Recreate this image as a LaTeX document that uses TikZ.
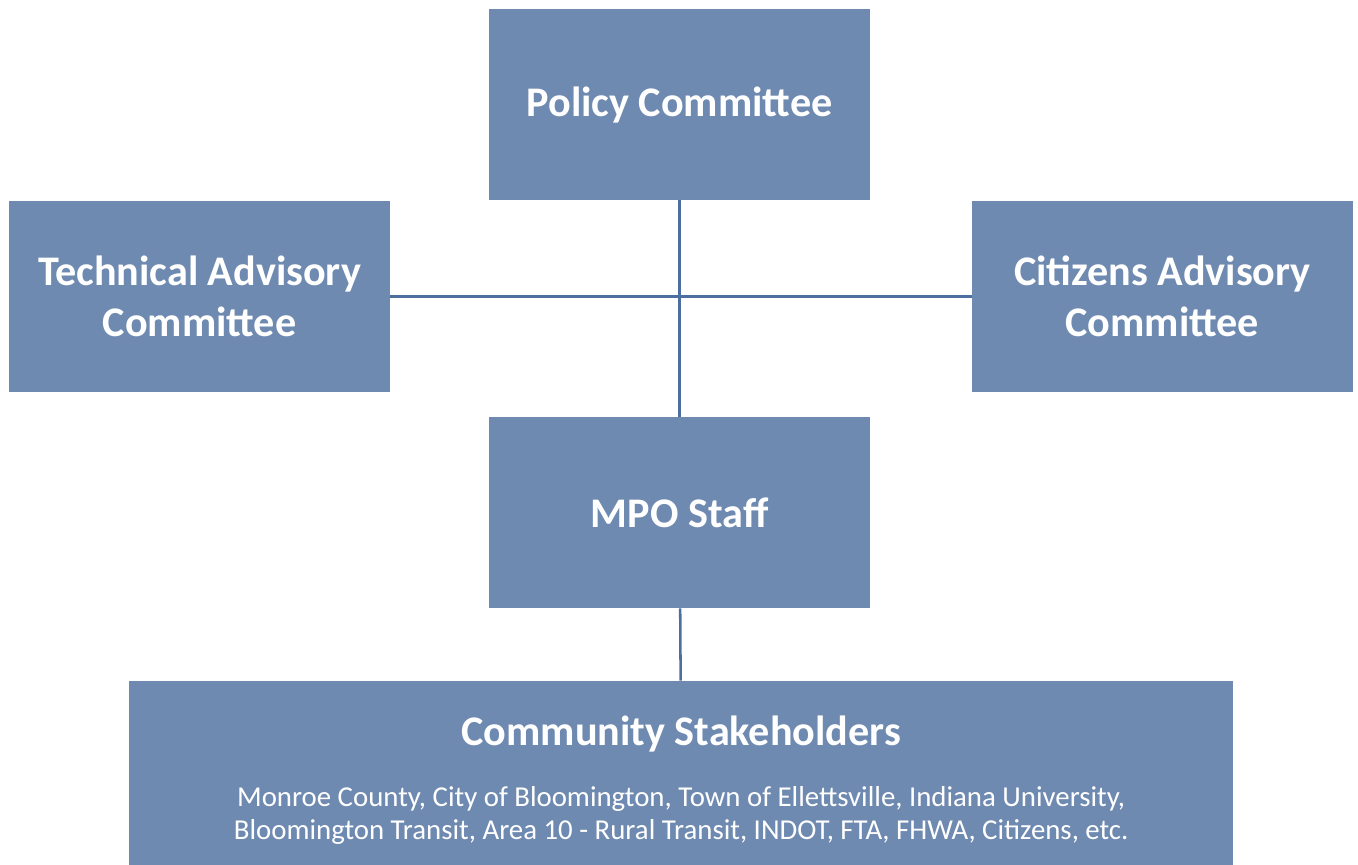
\documentclass[tikz,border=0pt]{standalone}
\usepackage{fontspec}
\setmainfont{Carlito}
\usetikzlibrary{positioning}

\definecolor{boxblue}{HTML}{6F8AB1}
\definecolor{lineblue}{HTML}{4D6FA0}

\tikzset{
  unit/.style={rectangle, fill=boxblue, text=white, align=center,
    minimum width=9.525cm, minimum height=4.775cm, inner sep=0pt,
    font=\fontsize{30}{36}\selectfont\bfseries},
  link/.style={draw=lineblue, line width=1.8pt}
}

\begin{document}
\begin{tikzpicture}
\useasboundingbox (0,0) rectangle (33.95,21.625);

\node (policy) [unit] at (16.99,19.01) {Policy Committee};
\node (tac) [unit] at (4.99,14.21) {Technical Advisory\\Committee};
\node (cac) [unit] at (29.06,14.21) {Citizens Advisory\\Committee};
\node (staff) [unit] at (16.99,8.81) {MPO Staff};
\node (stake) [unit, minimum width=27.6cm, minimum height=4.6cm] at (17.03,2.3) {};
\node (staketitle) at (17.03,3.28) [text=white, font=\fontsize{30}{36}\selectfont\bfseries] {Community Stakeholders};
\node (stakelist) [below=0.62cm of staketitle, text=white, align=center,
  font=\fontsize{20.5}{23.6}\selectfont]
  {Monroe County, City of Bloomington, Town of Ellettsville, Indiana University,\\
   Bloomington Transit, Area 10 - Rural Transit, INDOT, FTA, FHWA, Citizens, etc.};

%links
\path [link]
(policy) edge (staff)
(tac) edge (cac)
(staff) edge (stake)
;

\end{tikzpicture}
\end{document}
